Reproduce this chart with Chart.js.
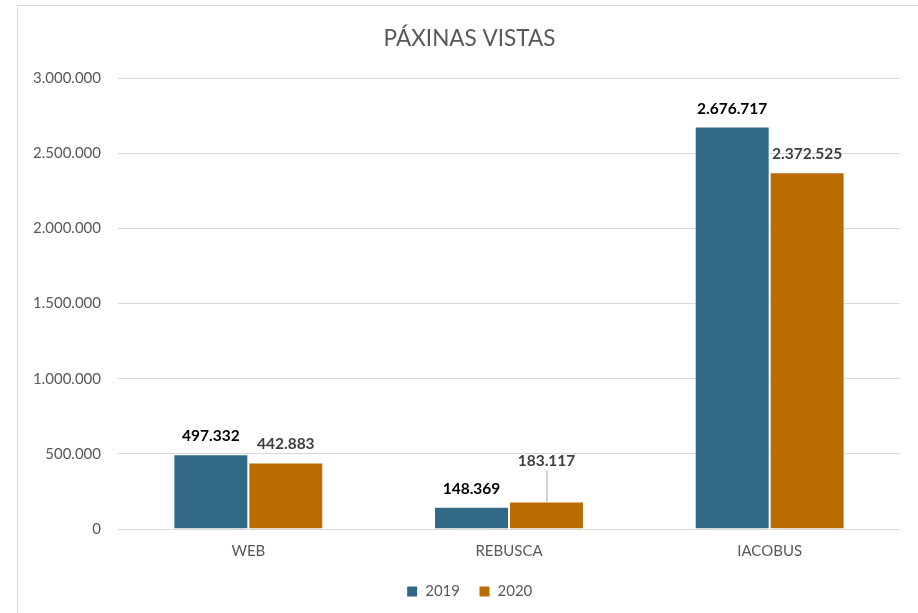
<!DOCTYPE html>
<html>
<head>
<meta charset="utf-8">
<script src="https://cdn.jsdelivr.net/npm/chart.js@4"></script>
<style>
  html, body { margin: 0; padding: 0; background: #fff; overflow: hidden; }
  #box { position: absolute; left: 17px; top: 5px; width: 1000px; height: 700px; border: 1px solid #d9d9d9; }
  #wrap { position: absolute; left: 0; top: 0; width: 901px; height: 607px; }
</style>
</head>
<body>
<div id="box"><div id="wrap"><canvas id="myChart"></canvas></div></div>
<script>
// datos
const categorias = ['WEB', 'REBUSCA', 'IACOBUS'];
const visitas2019 = [497332, 148369, 2676717];
const visitas2020 = [442883, 183117, 2372525];
const etiquetasY = [0, 500000, 1000000, 1500000, 2000000, 2500000, 3000000];

const fmt = v => v.toString().replace(/\B(?=(\d{3})+(?!\d))/g, '.');

// etiquetas de datos encima das barras
const etiquetasPlugin = {
  id: 'etiquetas',
  afterLayout(chart) {
    // o eixo Y ocupa menos ca etiqueta; deixamos que se debuxe ata o bordo
    chart.scales.y.left = 0;
  },
  afterDatasetsDraw(chart) {
    const ctx = chart.ctx;
    ctx.save();
    ctx.font = 'bold 15.5px Lato';
    ctx.textAlign = 'center';
    ctx.textBaseline = 'middle';
    chart.data.datasets.forEach((ds, i) => {
      const meta = chart.getDatasetMeta(i);
      meta.data.forEach((bar, j) => {
        const lift = (ds.lift && ds.lift[j]) || 0;
        const y = bar.y - 18 - lift;
        ctx.fillStyle = ds.labelColor;
        ctx.fillText(fmt(ds.data[j]), bar.x, y);
        if (lift) {
          ctx.strokeStyle = '#a6a6a6';
          ctx.lineWidth = 1;
          ctx.beginPath();
          ctx.moveTo(bar.x + 0.5, y + 9);
          ctx.lineTo(bar.x + 0.5, bar.y);
          ctx.stroke();
        }
      });
    });
    ctx.restore();
  }
};

new Chart(document.getElementById('myChart'), {
  type: 'bar',
  data: {
    labels: categorias,
    datasets: [{
      label: '2019',
      data: visitas2019,
      backgroundColor: '#306886',
      borderColor: '#ffffff',
      borderWidth: 1,
      labelColor: '#000000'
    }, {
      label: '2020',
      data: visitas2020,
      backgroundColor: '#b96c00',
      borderColor: '#ffffff',
      borderWidth: 1,
      labelColor: '#404040',
      lift: [0, 22, 0]
    }]
  },
  options: {
    responsive: true,
    maintainAspectRatio: false,
    animation: false,
    categoryPercentage: 0.575,
    barPercentage: 1,
    layout: { padding: { left: 21, right: 19, top: 10, bottom: 4 } },
    plugins: {
      title: {
        display: true,
        text: 'PÁXINAS VISTAS',
        color: '#595959',
        font: { family: 'Lato', size: 22.5, weight: 'normal' },
        padding: { top: 9, bottom: 26 }
      },
      legend: {
        display: true,
        position: 'bottom',
        labels: {
          color: '#595959',
          font: { family: 'Lato', size: 15 },
          boxWidth: 11,
          boxHeight: 11,
          padding: 19
        }
      },
      tooltip: { enabled: false }
    },
    scales: {
      x: {
        grid: { display: false },
        border: { display: false },
        ticks: { color: '#595959', font: { family: 'Lato', size: 15 }, padding: 5 }
      },
      y: {
        min: 0,
        max: 3000000,
        afterBuildTicks: axis => { axis.ticks = etiquetasY.map(v => ({ value: v })); },
        afterFit: axis => { axis.width = 79; },
        grid: { color: '#d9d9d9', drawTicks: false },
        border: { display: false },
        ticks: { color: '#595959', font: { family: 'Lato', size: 15 }, padding: 17, callback: v => fmt(v) }
      }
    }
  },
  plugins: [etiquetasPlugin]
});
</script>
</body>
</html>
